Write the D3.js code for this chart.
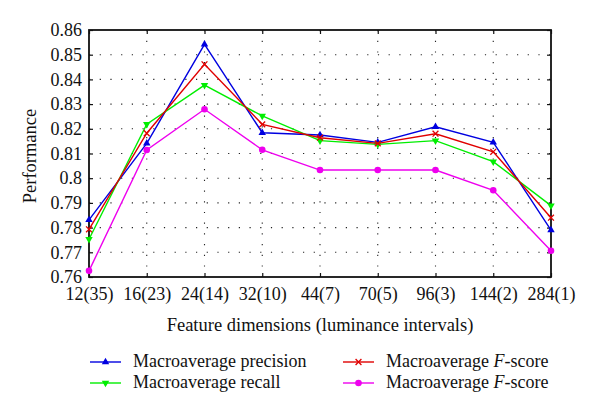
<!DOCTYPE html>
<html>
<head>
<meta charset="utf-8">
<script src="https://cdn.jsdelivr.net/npm/d3@7"></script>
<style>
  body { margin: 0; background: #fff; }
  svg { display: block; }
  text { font-family: "Liberation Serif", "DejaVu Serif", serif; fill: #111; }
</style>
</head>
<body>
<svg id="chart" width="600" height="419"></svg>
<script>
// x categories: feature dimensions (luminance intervals)
var categories = ["12(35)", "16(23)", "24(14)", "32(10)", "44(7)", "70(5)", "96(3)", "144(2)", "284(1)"];
var yTicks = [0.76, 0.77, 0.78, 0.79, 0.8, 0.81, 0.82, 0.83, 0.84, 0.85, 0.86];

var precision = [0.7831, 0.8141, 0.8542, 0.8184, 0.8175, 0.8145, 0.8208, 0.8145, 0.7790];
var fscore    = [0.7793, 0.8182, 0.8461, 0.8218, 0.8164, 0.8141, 0.8180, 0.8107, 0.7840];
var recall    = [0.7753, 0.8219, 0.8377, 0.8252, 0.8152, 0.8137, 0.8152, 0.8067, 0.7889];
var fscore2   = [0.7625, 0.8114, 0.8279, 0.8115, 0.8033, 0.8033, 0.8033, 0.7951, 0.7706];

var series = [
    { name: "Macroaverage precision", values: precision, color: "#0000e0", marker: "up" },
    { name: "Macroaverage recall", values: recall, color: "#00ee00", marker: "down" },
    { name: "Macroaverage F-score", values: fscore, color: "#e00000", marker: "x", italic: true },
    { name: "Macroaverage F-score", values: fscore2, color: "#ee00ee", marker: "dot", italic: true }
];

var svg = d3.select("#chart");
var pL = 89, pR = 551, pT = 30, pB = 277;

var x = d3.scalePoint().domain(categories).range([pL, pR]);
var y = d3.scaleLinear().domain([0.76, 0.86]).range([pB, pT]);

// dotted grid
var grid = svg.append("g");
grid.selectAll(".gx").data(categories.slice(1, -1)).enter().append("line")
    .attr("x1", function(d) { return x(d); }).attr("x2", function(d) { return x(d); })
    .attr("y1", pT).attr("y2", pB)
    .attr("stroke", "#222").attr("stroke-width", 1.1).attr("stroke-dasharray", "1.2,9.5");
grid.selectAll(".gy").data(yTicks.slice(1, -1)).enter().append("line")
    .attr("x1", pL).attr("x2", pR)
    .attr("y1", function(d) { return y(d); }).attr("y2", function(d) { return y(d); })
    .attr("stroke", "#222").attr("stroke-width", 1.1).attr("stroke-dasharray", "1.2,9.5");

// axes with inward ticks
var fmt = function(d) { return d3.format(".2f")(d).replace(/0$/, "").replace(/\.$/, ""); };
var yAxis = svg.append("g").attr("transform", "translate(" + pL + ",0)")
    .call(d3.axisLeft(y).tickValues(yTicks).tickSize(-4).tickPadding(7).tickFormat(fmt));
var xAxis = svg.append("g").attr("transform", "translate(0," + pB + ")")
    .call(d3.axisBottom(x).tickSize(-4).tickPadding(10));
svg.append("g").attr("transform", "translate(" + pR + ",0)")
    .call(d3.axisRight(y).tickValues(yTicks).tickSize(-4).tickFormat(""));
svg.append("g").attr("transform", "translate(0," + pT + ")")
    .call(d3.axisTop(x).tickSize(-4).tickFormat(""));

svg.selectAll(".domain").remove();
svg.selectAll(".tick line").attr("stroke", "#111").attr("stroke-width", 1.2);
yAxis.selectAll("text").style("font-size", "18px").style("font-family", "Liberation Serif, serif");
xAxis.selectAll("text").style("font-size", "18px").style("font-family", "Liberation Serif, serif").attr("dy", "0.72em");

svg.append("rect").attr("x", pL).attr("y", pT).attr("width", pR - pL).attr("height", pB - pT)
    .attr("fill", "none").attr("stroke", "#111").attr("stroke-width", 1.8);

// markers
function drawMarker(g, type, color, cx, cy) {
    if (type === "up") {
        g.append("path").attr("d", d3.symbol(d3.symbolTriangle, 24)()).attr("transform", "translate(" + cx + "," + cy + ")").attr("fill", color);
    } else if (type === "down") {
        g.append("path").attr("d", d3.symbol(d3.symbolTriangle, 24)()).attr("transform", "translate(" + cx + "," + cy + ") rotate(180)").attr("fill", color);
    } else if (type === "x") {
        g.append("path").attr("d", d3.symbol(d3.symbolTimes, 24)()).attr("transform", "translate(" + cx + "," + cy + ")").attr("fill", "none").attr("stroke", color).attr("stroke-width", 1.3);
    } else {
        g.append("circle").attr("cx", cx).attr("cy", cy).attr("r", 3.3).attr("fill", color);
    }
}

var line = d3.line().x(function(d, i) { return x(categories[i]); }).y(function(d) { return y(d); });

series.forEach(function(s) {
    var g = svg.append("g");
    g.append("path").datum(s.values).attr("d", line)
        .attr("fill", "none").attr("stroke", s.color).attr("stroke-width", 1.4);
    s.values.forEach(function(v, i) { drawMarker(g, s.marker, s.color, x(categories[i]), y(v)); });
});

// axis titles
svg.append("text").attr("x", (pL + pR) / 2).attr("y", 331).attr("text-anchor", "middle")
    .style("font-size", "18.5px").text("Feature dimensions (luminance intervals)");
svg.append("text").attr("transform", "translate(36,156) rotate(-90)").attr("text-anchor", "middle")
    .style("font-size", "18.5px").text("Performance");

// legend
var legPos = [[90, 362], [90, 383], [343, 362], [343, 383]];
series.forEach(function(s, i) {
    var lx = legPos[i][0], ly = legPos[i][1];
    var g = svg.append("g");
    g.append("line").attr("x1", lx).attr("x2", lx + 31).attr("y1", ly).attr("y2", ly)
        .attr("stroke", s.color).attr("stroke-width", 1.4);
    drawMarker(g, s.marker, s.color, lx + 15.5, ly);
    var t = g.append("text").attr("x", lx + 43).attr("y", ly + 5).style("font-size", "18px");
    if (s.italic) {
        t.append("tspan").text("Macroaverage ");
        t.append("tspan").style("font-style", "italic").text("F");
        t.append("tspan").text("-score");
    } else {
        t.text(s.name);
    }
});
</script>
</body>
</html>
